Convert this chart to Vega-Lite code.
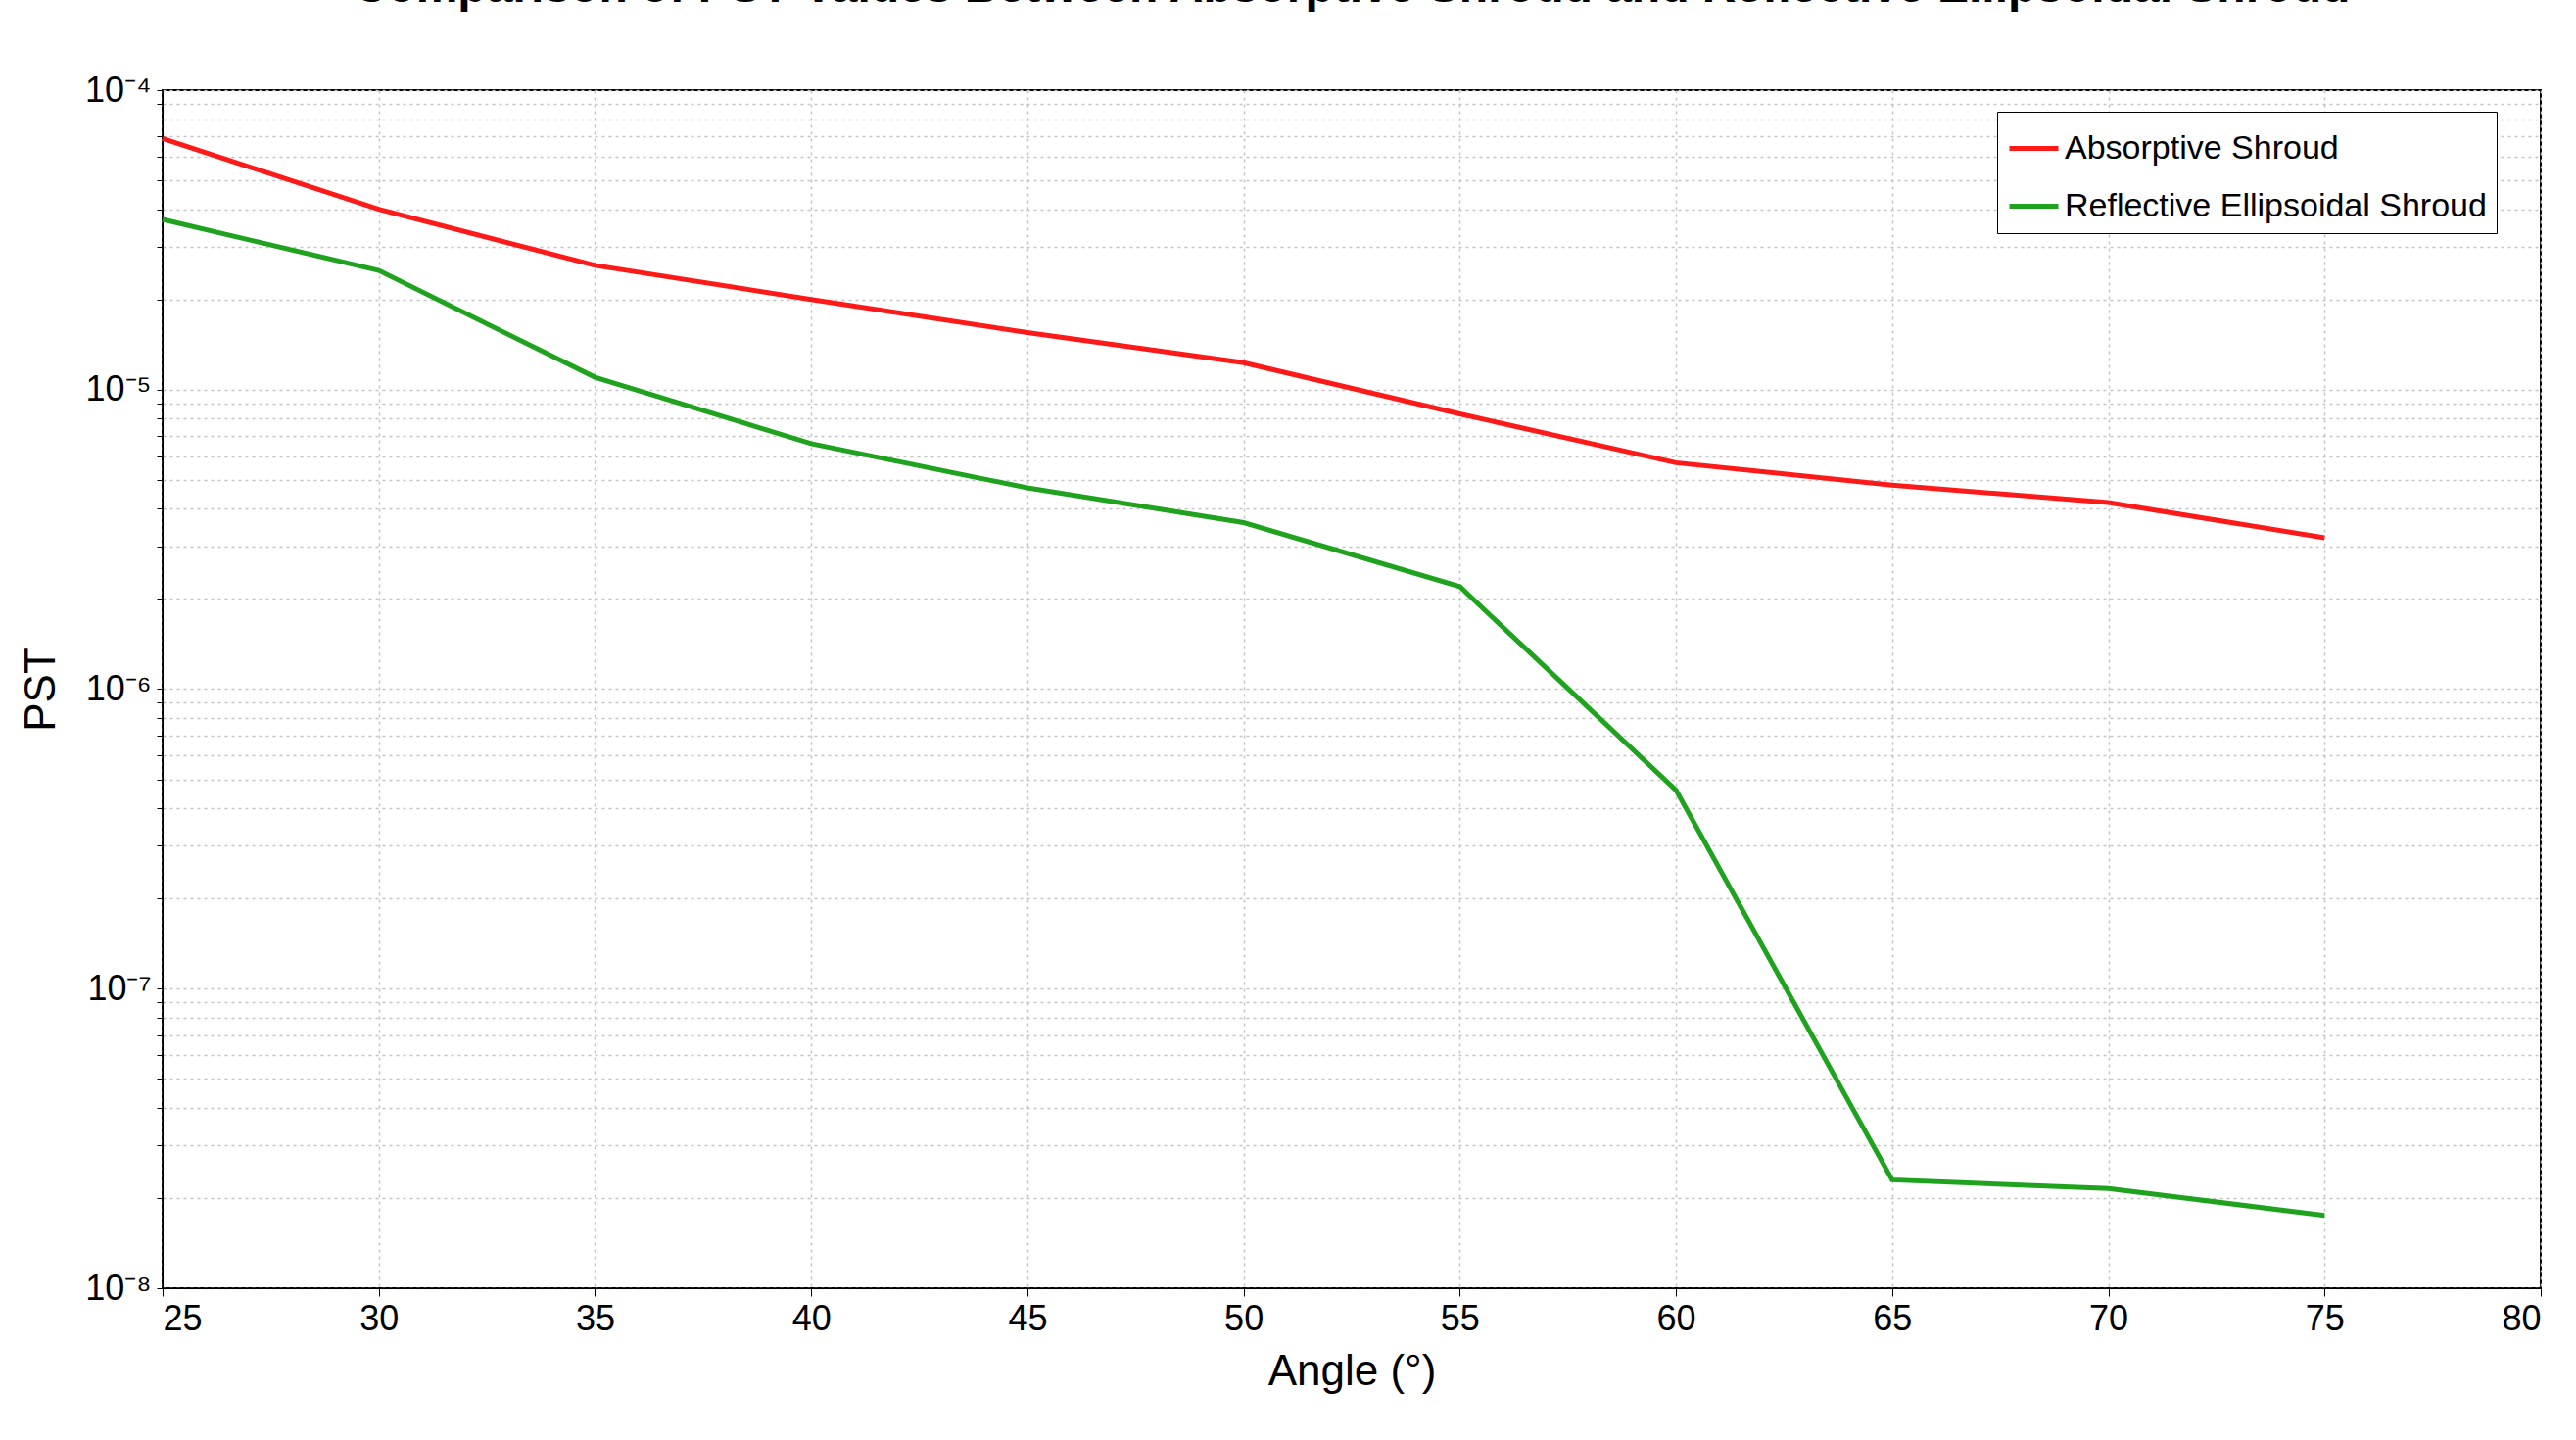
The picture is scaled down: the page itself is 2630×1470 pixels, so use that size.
{
  "$schema": "https://vega.github.io/schema/vega-lite/v6.json",
  "autosize": "none",
  "width": 2428,
  "height": 1223,
  "padding": {"left": 166, "top": 92, "right": 36, "bottom": 155},
  "background": "white",
  "title": {
    "text": "Comparison of PST Values Between Absorptive Shroud and Reflective Ellipsoidal Shroud",
    "font": "Liberation Sans",
    "fontSize": 48,
    "fontWeight": "bold",
    "color": "black",
    "offset": 14,
    "baseline": "bottom"
  },
  "config": {
    "view": {"stroke": "black", "strokeWidth": 2},
    "axis": {
      "labelFont": "Liberation Sans",
      "titleFont": "Liberation Sans",
      "labelFontSize": 36,
      "titleFontSize": 44,
      "titleFontWeight": "normal",
      "labelColor": "black",
      "titleColor": "black",
      "domainColor": "black",
      "tickColor": "black",
      "gridColor": "#c4c4c4",
      "gridDash": [3, 4],
      "gridWidth": 1.5
    }
  },
  "data": {
    "values": [
      {"angle": 25, "pst": 6.9e-5, "series": "Absorptive Shroud"},
      {"angle": 30, "pst": 4.0e-5, "series": "Absorptive Shroud"},
      {"angle": 35, "pst": 2.6e-5, "series": "Absorptive Shroud"},
      {"angle": 40, "pst": 2.0e-5, "series": "Absorptive Shroud"},
      {"angle": 45, "pst": 1.55e-5, "series": "Absorptive Shroud"},
      {"angle": 50, "pst": 1.23e-5, "series": "Absorptive Shroud"},
      {"angle": 55, "pst": 8.3e-6, "series": "Absorptive Shroud"},
      {"angle": 60, "pst": 5.7e-6, "series": "Absorptive Shroud"},
      {"angle": 65, "pst": 4.8e-6, "series": "Absorptive Shroud"},
      {"angle": 70, "pst": 4.2e-6, "series": "Absorptive Shroud"},
      {"angle": 75, "pst": 3.2e-6, "series": "Absorptive Shroud"},
      {"angle": 25, "pst": 3.7e-5, "series": "Reflective Ellipsoidal Shroud"},
      {"angle": 30, "pst": 2.5e-5, "series": "Reflective Ellipsoidal Shroud"},
      {"angle": 35, "pst": 1.1e-5, "series": "Reflective Ellipsoidal Shroud"},
      {"angle": 40, "pst": 6.6e-6, "series": "Reflective Ellipsoidal Shroud"},
      {"angle": 45, "pst": 4.7e-6, "series": "Reflective Ellipsoidal Shroud"},
      {"angle": 50, "pst": 3.6e-6, "series": "Reflective Ellipsoidal Shroud"},
      {"angle": 55, "pst": 2.2e-6, "series": "Reflective Ellipsoidal Shroud"},
      {"angle": 60, "pst": 4.6e-7, "series": "Reflective Ellipsoidal Shroud"},
      {"angle": 65, "pst": 2.3e-8, "series": "Reflective Ellipsoidal Shroud"},
      {"angle": 70, "pst": 2.15e-8, "series": "Reflective Ellipsoidal Shroud"},
      {"angle": 75, "pst": 1.75e-8, "series": "Reflective Ellipsoidal Shroud"}
    ]
  },
  "mark": {"type": "line", "strokeWidth": 5},
  "encoding": {
    "x": {
      "field": "angle",
      "type": "quantitative",
      "title": "Angle (°)",
      "scale": {"domain": [25, 80], "nice": false},
      "axis": {"values": [25, 30, 35, 40, 45, 50, 55, 60, 65, 70, 75, 80], "tickSize": 8, "labelPadding": 6, "titlePadding": 14}
    },
    "y": {
      "field": "pst",
      "type": "quantitative",
      "title": "PST",
      "scale": {"type": "log", "domain": [1e-8, 1e-4], "nice": false},
      "axis": {
        "values": [1e-8, 2e-8, 3e-8, 4e-8, 5e-8, 6e-8, 7e-8, 8e-8, 9e-8, 1e-7, 2e-7, 3e-7, 4e-7, 5e-7, 6e-7, 7e-7, 8e-7, 9e-7, 1e-6, 2e-6, 3e-6, 4e-6, 5e-6, 6e-6, 7e-6, 8e-6, 9e-6, 1e-5, 2e-5, 3e-5, 4e-5, 5e-5, 6e-5, 7e-5, 8e-5, 9e-5, 1e-4],
        "labelExpr": "abs(log(datum.value)/LN10 - round(log(datum.value)/LN10)) < 0.001 ? '10' + ({'-4':'⁻⁴','-5':'⁻⁵','-6':'⁻⁶','-7':'⁻⁷','-8':'⁻⁸'})[''+round(log(datum.value)/LN10)] : ''",
        "tickSize": 6,
        "labelPadding": 6,
        "titlePadding": 22
      }
    },
    "color": {
      "field": "series",
      "type": "nominal",
      "scale": {"domain": ["Absorptive Shroud", "Reflective Ellipsoidal Shroud"], "range": ["#ff1a1a", "#1fa31f"]},
      "legend": {
        "title": null,
        "orient": "none",
        "legendX": 1873,
        "legendY": 22,
        "labelFont": "Liberation Sans",
        "labelFontSize": 34,
        "labelLimit": 0,
        "labelColor": "black",
        "symbolType": "stroke",
        "symbolStrokeWidth": 5,
        "symbolSize": 2500,
        "strokeColor": "black",
        "fillColor": "white",
        "padding": 10,
        "rowPadding": 14
      }
    }
  }
}
